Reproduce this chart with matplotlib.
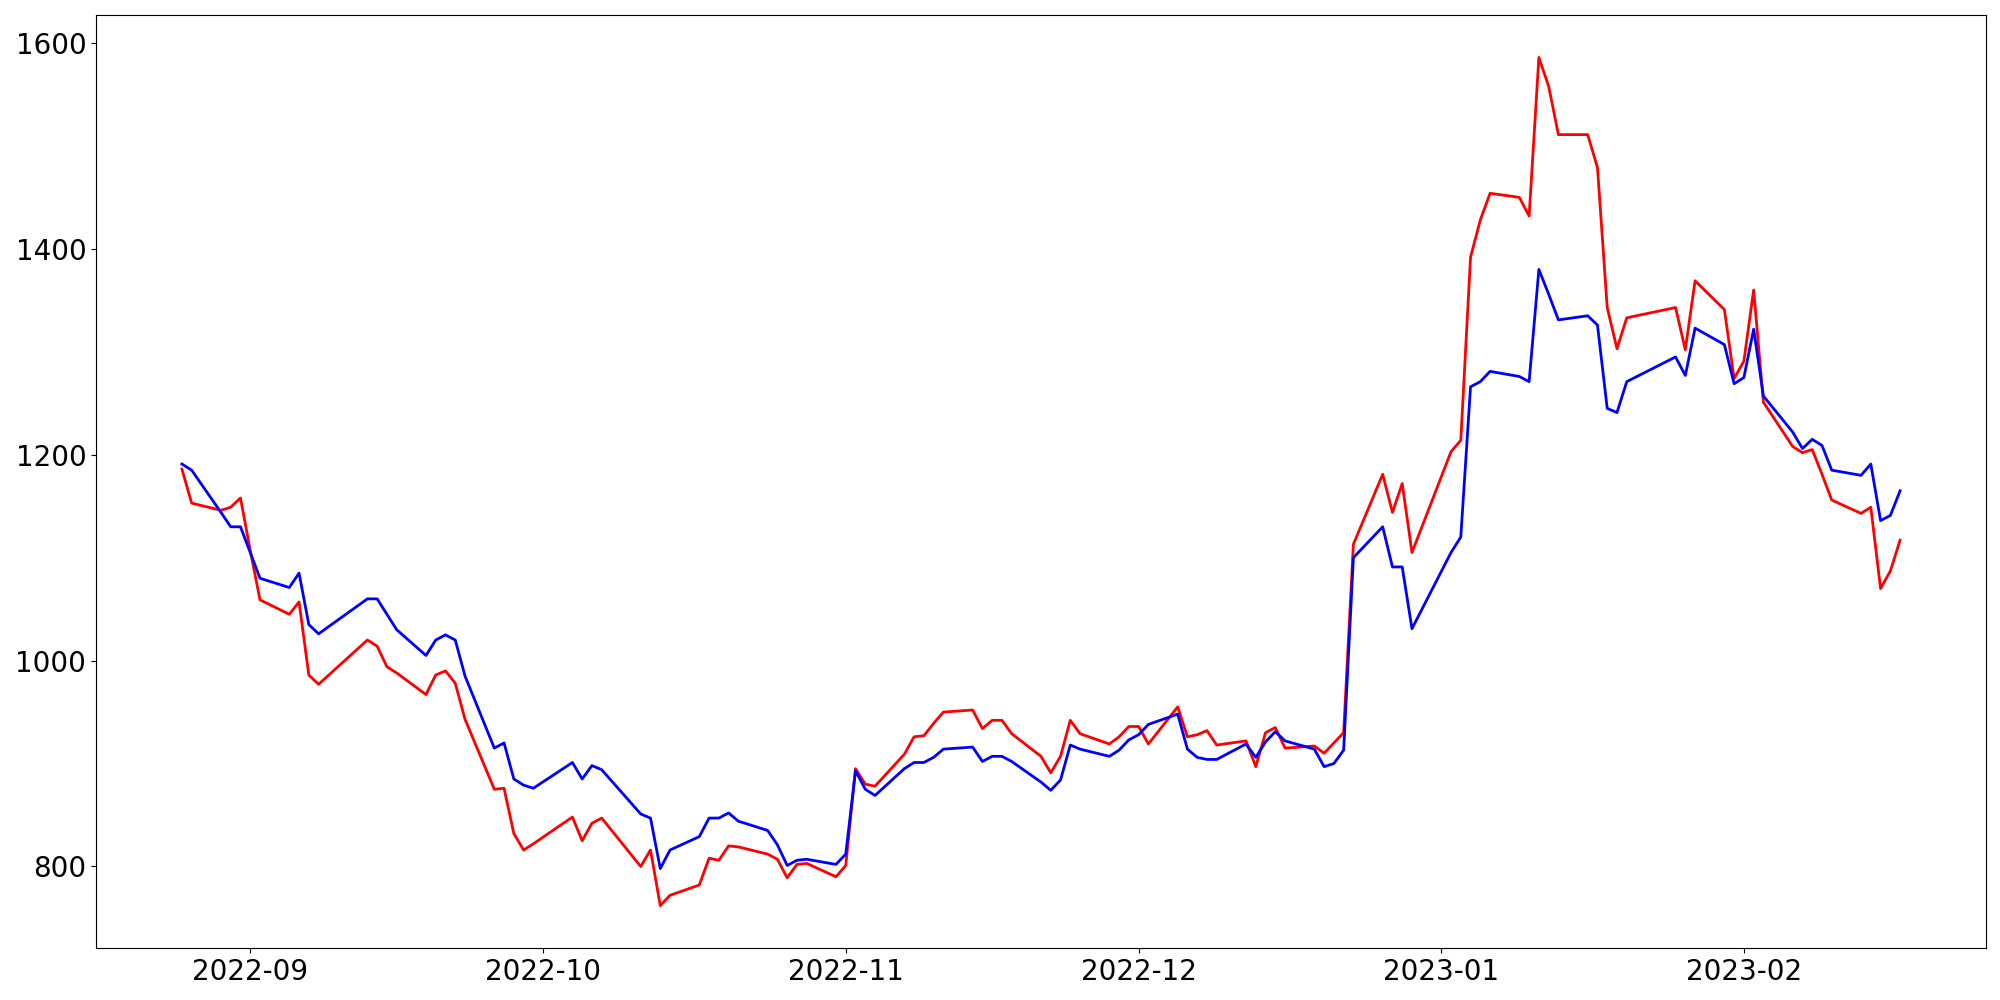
import matplotlib
matplotlib.use('Agg')
import matplotlib.pyplot as plt
import pandas as pd

# trading days (KRX calendar, holidays skipped)
holidays = ['2022-09-09', '2022-09-12', '2022-10-03', '2022-10-10',
            '2022-12-30', '2023-01-23', '2023-01-24']
dates = pd.bdate_range('2022-08-25', '2023-02-17', freq='C', holidays=holidays)

red_values = [
    1186, 1153, 1146, 1149, 1158,
    1107, 1059, 1045, 1057, 986, 977, 1020, 1014, 994, 988, 967, 986, 990, 978, 943, 875, 876, 832, 816, 822,
    848, 825, 842, 847, 800, 816, 762, 772, 782, 808, 806, 820, 819, 812, 807, 789, 802, 803, 790,
    801, 895, 880, 878, 909, 926, 927, 939, 950, 952, 934, 942, 942, 929, 907, 891, 907, 942, 929, 919, 926, 936,
    936, 919, 955, 926, 928, 932, 918, 922, 897, 930, 935, 915, 917, 910, 920, 930, 1113, 1181, 1144, 1172, 1105,
    1203, 1214, 1392, 1428, 1454, 1450, 1432, 1586, 1558, 1511, 1511, 1479, 1343, 1303, 1333, 1343, 1302, 1369, 1341, 1274,
    1291, 1360, 1251, 1208, 1202, 1205, 1181, 1156, 1143, 1149, 1070, 1087, 1117,
]

blue_values = [
    1191, 1185, 1144, 1130, 1130,
    1105, 1080, 1071, 1085, 1035, 1026, 1060, 1060, 1045, 1030, 1005, 1020, 1025, 1020, 985, 915, 920, 885, 879, 876,
    901, 885, 898, 894, 851, 847, 798, 816, 829, 847, 847, 852, 844, 835, 821, 801, 806, 807, 802,
    812, 893, 875, 869, 895, 901, 901, 906, 914, 916, 902, 907, 907, 902, 882, 874, 884, 918, 914, 907, 913, 923,
    928, 938, 948, 914, 906, 904, 904, 919, 906, 921, 931, 922, 914, 897, 900, 913, 1100, 1130, 1091, 1091, 1031,
    1105, 1120, 1266, 1271, 1281, 1276, 1271, 1380, 1356, 1331, 1335, 1326, 1245, 1241, 1271, 1295, 1277, 1323, 1307, 1269,
    1275, 1322, 1257, 1222, 1206, 1215, 1209, 1185, 1180, 1191, 1136, 1141, 1165,
]

fig, ax = plt.subplots(figsize=(20, 10), dpi=100)
fig.subplots_adjust(left=0.048, right=0.993, top=0.985, bottom=0.052)

ax.plot(dates, red_values, color='red', linewidth=2)
ax.plot(dates, blue_values, color='blue', linewidth=2)

ax.tick_params(axis='both', labelsize=20)

fig.savefig('out.png')
